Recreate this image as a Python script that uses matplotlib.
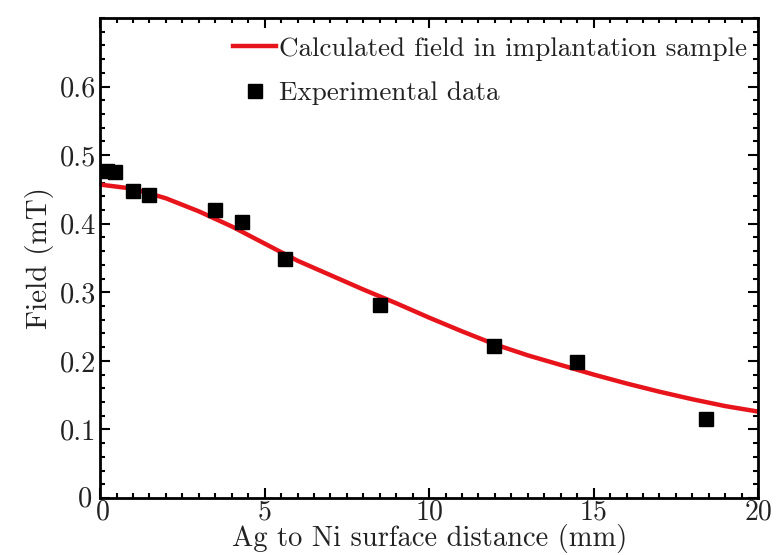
import matplotlib
matplotlib.use("Agg")
import matplotlib.pyplot as plt
import matplotlib.transforms as mtransforms
from matplotlib.ticker import MultipleLocator

# Data
exp_x = [0.2, 0.46, 1.0, 1.5, 3.5, 4.3, 5.63, 8.52, 11.97, 14.48, 18.42]
exp_y = [0.477, 0.475, 0.448, 0.442, 0.420, 0.403, 0.349, 0.281, 0.221, 0.198, 0.115]

calc_x = [0, 1, 2, 3, 4, 5, 6, 7, 8, 9, 10, 11, 12, 13, 14, 15, 16, 17, 18, 19, 20]
calc_y = [0.457, 0.451, 0.437, 0.418, 0.396, 0.371, 0.346, 0.325, 0.304, 0.284,
          0.263, 0.243, 0.224, 0.208, 0.194, 0.180, 0.167, 0.155, 0.144, 0.134, 0.126]

xticks = [0, 5, 10, 15, 20]
xticklabels = ["0", "5", "10", "15", "20"]
yticks = [0, 0.1, 0.2, 0.3, 0.4, 0.5, 0.6]
yticklabels = ["0", "0.1", "0.2", "0.3", "0.4", "0.5", "0.6"]

plt.rcParams['font.family'] = ['cmr10', 'DejaVu Serif']
plt.rcParams['mathtext.fontset'] = 'cm'

fig = plt.figure(figsize=(7.76, 5.55), dpi=100)
ax = fig.add_axes([0.129, 0.1027, 0.848, 0.865])

ax.plot(calc_x, calc_y, color='#e8141b', lw=3.2, label='Calculated field in implantation sample', zorder=2)
ax.plot(exp_x, exp_y, 's', color='black', ms=9.5, label='Experimental data', zorder=3)

ax.set_xlim(0, 20)
ax.set_ylim(0, 0.7)
ax.set_xticks(xticks)
ax.set_xticklabels(xticklabels)
ax.set_yticks(yticks)
ax.set_yticklabels(yticklabels)
ax.xaxis.set_minor_locator(MultipleLocator(0.5))
ax.yaxis.set_minor_locator(MultipleLocator(0.02))
ax.tick_params(which='both', direction='in', top=True, right=True, width=1.5,
               colors='black', labelcolor='#222222')
ax.tick_params(axis='y', which='major', labelsize=20.5, pad=3)
ax.tick_params(axis='x', which='major', labelsize=20, pad=1)
ax.tick_params(which='major', length=7)
ax.tick_params(which='minor', length=3.5)
for s in ax.spines.values():
    s.set_linewidth(2)

# nudge the two corner "0" labels apart so they do not collide
ylab0 = ax.get_yticklabels()[0]
ylab0.set_transform(ylab0.get_transform() + mtransforms.ScaledTranslation(-4 / 100, 2 / 100, fig.dpi_scale_trans))
xlab0 = ax.get_xticklabels()[0]
xlab0.set_transform(xlab0.get_transform() + mtransforms.ScaledTranslation(3 / 100, 0, fig.dpi_scale_trans))

ax.set_xlabel('Ag to Ni surface distance (mm)', fontsize=20.5, labelpad=-1, color='#222222')
ax.set_ylabel('Field (mT)', fontsize=21, labelpad=4, color='#222222')

leg = ax.legend(loc='upper right', bbox_to_anchor=(1.012, 1.0), frameon=False, fontsize=19.5,
                handlelength=1.6, handletextpad=0.1, labelspacing=0.75, borderaxespad=0.3)
for t in leg.get_texts():
    t.set_color('#222222')

fig.savefig('out.png', dpi=100, facecolor='white')
